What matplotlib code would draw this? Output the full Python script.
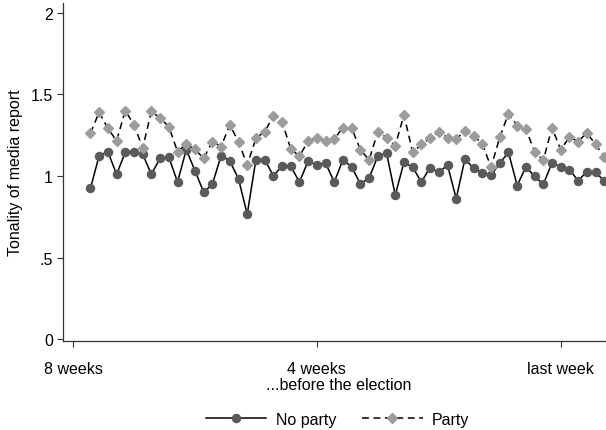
"""Tonality of media report by day before the election, party vs no party."""
import numpy as np
import matplotlib
matplotlib.use("Agg")
import matplotlib.pyplot as plt

plt.rcParams["font.family"] = ["Liberation Sans", "DejaVu Sans"]

# days counted from 8 weeks before the election (0 = 8 weeks, 56 = last week)
days = np.arange(2, 62)

no_party = [
    0.924, 1.125, 1.149, 1.010, 1.145, 1.145, 1.133, 1.010, 1.110, 1.115,
    0.963, 1.161, 1.033, 0.900, 0.949, 1.125, 1.092, 0.982, 0.765, 1.100,
    1.100, 1.002, 1.059, 1.059, 0.963, 1.092, 1.067, 1.078, 0.963, 1.100,
    1.055, 0.951, 0.988, 1.121, 1.141, 0.883, 1.084, 1.053, 0.963, 1.051,
    1.022, 1.067, 0.861, 1.104, 1.047, 1.020, 1.004, 1.078, 1.145, 0.941,
    1.055, 0.998, 0.949, 1.080, 1.055, 1.039, 0.971, 1.027, 1.022, 0.969,
]
party = [
    1.262, 1.391, 1.292, 1.215, 1.401, 1.313, 1.172, 1.397, 1.354, 1.303,
    1.149, 1.196, 1.163, 1.108, 1.211, 1.180, 1.313, 1.211, 1.067, 1.231,
    1.272, 1.366, 1.333, 1.166, 1.121, 1.215, 1.235, 1.213, 1.227, 1.297,
    1.292, 1.161, 1.098, 1.272, 1.235, 1.186, 1.374, 1.145, 1.194, 1.231,
    1.272, 1.235, 1.227, 1.276, 1.247, 1.198, 1.053, 1.237, 1.382, 1.309,
    1.288, 1.149, 1.096, 1.297, 1.161, 1.239, 1.211, 1.264, 1.194, 1.117,
]

x_ticks = [0, 28, 56]
x_labels = ["8 weeks", "4 weeks", "last week"]
y_ticks = [0, 0.5, 1, 1.5, 2]
y_labels = ["0", ".5", "1", "1.5", "2"]

fig = plt.figure(figsize=(6.06, 4.31), dpi=100)
ax = fig.add_axes([0.104, 0.2065, 0.896, 0.784])

ax.plot(days, no_party, color="black", lw=1.1, marker="o", ms=5.8,
        mfc="#5a5a5a", mec="#5a5a5a", label="No party")
ax.plot(days, party, color="black", lw=1.1, ls=(0, (4.5, 3)), marker="D", ms=5.2,
        mfc="#9c9c9c", mec="#9c9c9c", label="Party")

ax.set_xlim(-1.15, 61.2)
ax.set_ylim(-0.012, 2.06)
ax.set_xticks(x_ticks, x_labels)
ax.set_yticks(y_ticks, y_labels)
ax.tick_params(labelsize=11.5, length=4.3, width=0.8, color="#333333")
ax.tick_params(axis="x", pad=10)
ax.tick_params(axis="y", pad=3)
for side in ("top", "right"):
    ax.spines[side].set_visible(False)
for side in ("left", "bottom"):
    ax.spines[side].set_color("#333333")
    ax.spines[side].set_linewidth(0.9)

ax.set_xlabel("...before the election", fontsize=11.5)
ax.xaxis.set_label_coords(0.507, -0.108)
ax.set_ylabel("Tonality of media report", fontsize=11.5, va="center")
ax.yaxis.set_label_coords(-0.087, 0.5)

fig.legend(loc="center", bbox_to_anchor=(0.557, 0.025), ncol=2, frameon=False,
           fontsize=11.5, handlelength=3.8, handletextpad=0.6, columnspacing=1.6,
           numpoints=1)

fig.savefig("out.png", dpi=100)
plt.close(fig)
